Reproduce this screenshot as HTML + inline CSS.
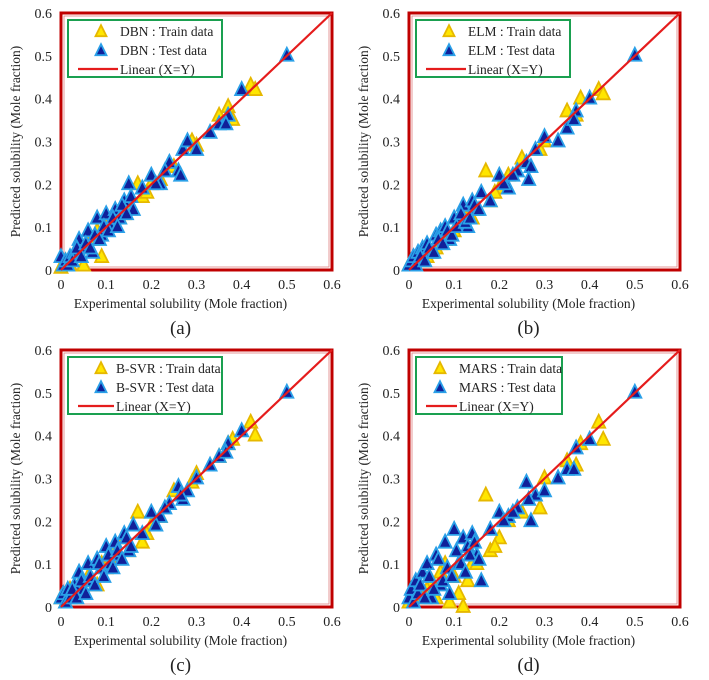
<!DOCTYPE html>
<html><head><meta charset="utf-8"><style>
body{margin:0;background:#fff;width:709px;height:675px;overflow:hidden}
svg text{font-family:"Liberation Serif",serif;fill:#222}
</style></head><body>
<svg id="c" width="709" height="675" viewBox="0 0 709 675" xmlns="http://www.w3.org/2000/svg"></svg>
<script>
const ticks=[0,0.1,0.2,0.3,0.4,0.5,0.6];
const tickLabels=["0","0.1","0.2","0.3","0.4","0.5","0.6"];
const panelNames=["DBN","ELM","B-SVR","MARS"];
const panelLetters=["(a)","(b)","(c)","(d)"];
const testX=[0,0.005,0.01,0.015,0.02,0.03,0.04,0.05,0.06,0.07,0.08,0.09,0.1,0.11,0.12,0.13,0.14,0.15,0.16,0.18,0.2,0.22,0.24,0.26,0.27,0.28,0.3,0.33,0.35,0.37,0.4,0.5,0.025,0.035,0.045,0.055,0.065,0.075,0.085,0.095,0.105,0.115,0.125,0.135,0.145,0.155,0.21,0.23,0.265,0.365];
const testYa=[0.03,0.01,0.02,0.01,0.03,0.04,0.07,0.05,0.09,0.04,0.12,0.08,0.13,0.1,0.14,0.12,0.16,0.2,0.14,0.19,0.22,0.2,0.25,0.23,0.28,0.3,0.28,0.32,0.34,0.36,0.42,0.5,0.02,0.05,0.03,0.06,0.05,0.08,0.07,0.1,0.09,0.12,0.1,0.15,0.13,0.17,0.2,0.23,0.22,0.34];
const testYb=[0.01,0.02,0.03,0.01,0.04,0.05,0.06,0.04,0.08,0.09,0.1,0.07,0.12,0.11,0.15,0.1,0.16,0.14,0.18,0.16,0.22,0.19,0.23,0.25,0.24,0.28,0.31,0.3,0.33,0.37,0.4,0.5,0.03,0.02,0.05,0.04,0.07,0.06,0.09,0.08,0.1,0.13,0.11,0.12,0.15,0.14,0.2,0.22,0.21,0.35];
const testYc=[0.02,0.03,0.01,0.04,0.02,0.05,0.08,0.04,0.1,0.06,0.11,0.09,0.14,0.1,0.15,0.12,0.17,0.13,0.19,0.17,0.22,0.21,0.24,0.28,0.25,0.27,0.3,0.33,0.35,0.38,0.41,0.5,0.04,0.02,0.06,0.03,0.07,0.05,0.1,0.07,0.12,0.09,0.13,0.11,0.16,0.14,0.19,0.23,0.26,0.36];
const testYd=[0.02,0.04,0.01,0.06,0.03,0.08,0.1,0.02,0.12,0.05,0.15,0.03,0.18,0.1,0.16,0.14,0.17,0.12,0.06,0.18,0.22,0.21,0.23,0.29,0.2,0.26,0.27,0.3,0.32,0.37,0.39,0.5,0.05,0.02,0.07,0.04,0.11,0.06,0.09,0.07,0.13,0.1,0.08,0.12,0.15,0.11,0.2,0.22,0.25,0.32];
const trainX=[0,0.01,0.02,0.03,0.05,0.06,0.08,0.09,0.1,0.12,0.14,0.17,0.18,0.2,0.22,0.25,0.29,0.3,0.35,0.37,0.38,0.42,0.43,0.04,0.07,0.11,0.13,0.15,0.19];
const trainYa=[0.005,0.02,0.01,0.03,0.01,0.06,0.09,0.03,0.1,0.12,0.13,0.2,0.17,0.2,0.21,0.24,0.3,0.29,0.36,0.38,0.35,0.43,0.42,0.04,0.07,0.1,0.12,0.15,0.18];
const trainYb=[0.01,0.02,0.03,0.02,0.04,0.05,0.07,0.08,0.09,0.13,0.12,0.23,0.16,0.19,0.22,0.26,0.28,0.3,0.37,0.36,0.4,0.42,0.41,0.03,0.06,0.1,0.12,0.14,0.18];
const trainYc=[0.02,0.01,0.04,0.02,0.03,0.07,0.05,0.1,0.09,0.14,0.16,0.22,0.15,0.19,0.21,0.27,0.29,0.31,0.35,0.38,0.39,0.43,0.4,0.05,0.06,0.11,0.12,0.13,0.17];
const trainYd=[0.01,0.03,0.05,0.02,0.06,0.02,0.1,0.01,0.07,0.0,0.1,0.26,0.13,0.16,0.2,0.22,0.23,0.3,0.34,0.33,0.38,0.43,0.39,0.04,0.08,0.03,0.06,0.1,0.14];
const testYs=[testYa,testYb,testYc,testYd];
const trainYs=[trainYa,trainYb,trainYc,trainYd];
const origins=[[61,13],[409,13],[61,350],[409,350]];
const W=271,H=257,NS="http://www.w3.org/2000/svg";
const svg=document.getElementById('c');
function mk(tag,attrs,parent,text){const e=document.createElementNS(NS,tag);for(const k in attrs)e.setAttribute(k,attrs[k]);if(text!==undefined)e.textContent=text;(parent||svg).appendChild(e);return e;}
function tri(g,cx,cy,fill,stroke,s){return mk('polygon',{points:`${cx},${cy-s*0.62} ${cx-s/2},${cy+s*0.38} ${cx+s/2},${cy+s*0.38}`,fill:fill,stroke:stroke,'stroke-width':1.8},g);}
for(let p=0;p<4;p++){
 const [ox,oy]=origins[p];
 const sx=v=>ox+v/0.6*W, sy=v=>oy+H-v/0.6*H;
 const g=mk('g',{});
 
 
 const fr=mk('rect',{x:ox,y:oy,width:W,height:H,fill:'none',stroke:'#c00000','stroke-width':3},g);
 
 mk('rect',{x:ox+3,y:oy+3,width:W-6,height:H-6,fill:'none',stroke:'#e08080','stroke-width':0.8},g);
 for(let i=0;i<ticks.length;i++){
  const t1=mk('text',{x:sx(ticks[i]),y:oy+H+19,'text-anchor':'middle','font-size':14},g,tickLabels[i]);
  
  const t2=mk('text',{x:ox-9,y:sy(ticks[i])+5,'text-anchor':'end','font-size':14},g,tickLabels[i]);
  
 }
 const xt=mk('text',{x:ox+W/2-16,y:oy+H+38,'text-anchor':'middle','font-size':13.5},g,'Experimental solubility (Mole fraction)');
 
 const yx=ox-41,yy=oy+H/2;
 const yt=mk('text',{x:yx,y:yy,'text-anchor':'middle','font-size':13.5,transform:`rotate(-90 ${yx} ${yy})`},g,'Predicted solubility (Mole fraction)');
 
 const lt=mk('text',{x:ox+W/2-16,y:oy+H+64,'text-anchor':'middle','font-size':19},g,panelLetters[p]);
 
 const tr=trainYs[p];
 for(let i=0;i<trainX.length;i++){const m=tri(g,sx(trainX[i]),sy(tr[i]),'#ffe600','#e6b800',13);
  }
 const te=testYs[p];
 for(let i=0;i<testX.length;i++){const m=tri(g,sx(testX[i]),sy(te[i]),'#10209a','#2aa0e8',13);
  }
 const ln=mk('line',{x1:sx(0),y1:sy(0),x2:sx(0.6),y2:sy(0.6),stroke:'#e51c1c','stroke-width':2.2},g);
 
 const lw=p===3?146:154;
 const tx=p===3?ox+50:(p===2?ox+55:ox+59);
 const mx=p===3?ox+31:ox+40;
 const lg=mk('g',{},g);
 
 mk('rect',{x:ox+7,y:oy+7,width:lw,height:57,fill:'#fff',stroke:'#1aa050','stroke-width':2},lg);
 tri(lg,mx,oy+19,'#ffe600','#e6b800',11);
 mk('text',{x:tx,y:oy+23,'font-size':13.5},lg,panelNames[p]+' : Train data');
 tri(lg,mx,oy+38,'#10209a','#2aa0e8',11);
 mk('text',{x:tx,y:oy+42,'font-size':13.5},lg,panelNames[p]+' : Test data');
 mk('line',{x1:ox+17,y1:oy+56,x2:tx-2,y2:oy+56,stroke:'#e51c1c','stroke-width':2.2},lg);
 mk('text',{x:tx,y:oy+61,'font-size':13.5},lg,'Linear (X=Y)');
}
</script>
</body></html>
